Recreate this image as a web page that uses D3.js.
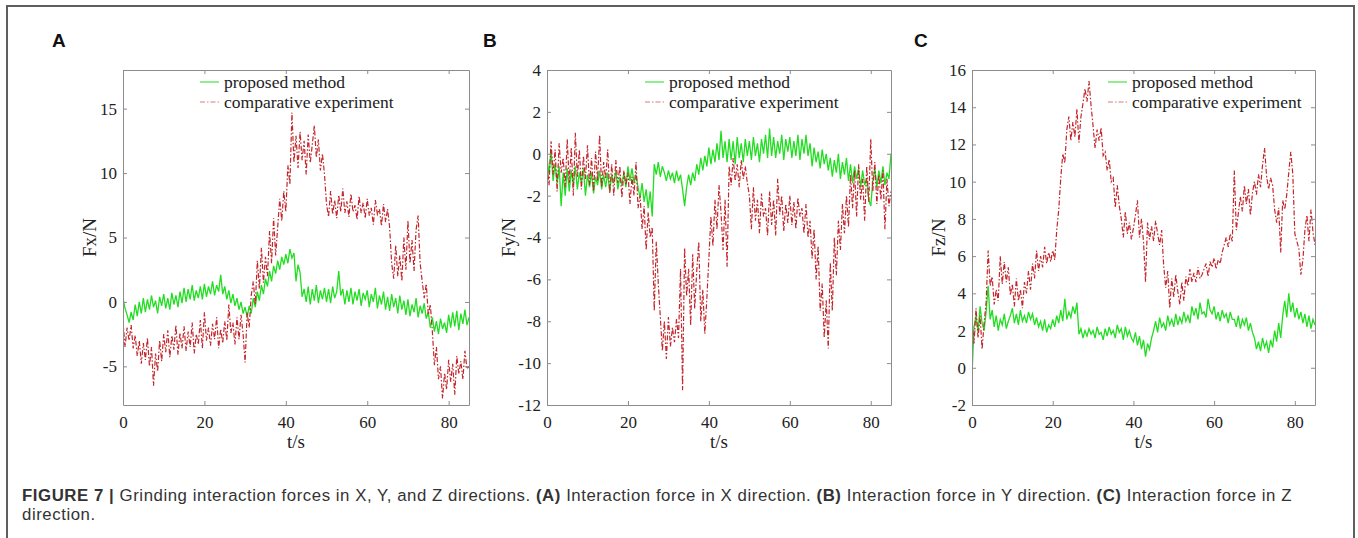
<!DOCTYPE html>
<html>
<head>
<meta charset="utf-8">
<script src="https://cdn.jsdelivr.net/npm/d3@7"></script>
<style>
    body { margin: 0; background: #fff; }
    svg { display: block; }
</style>
</head>
<body>
<div id="figure"></div>
<script>
// Figure size
const fig_width = 1358, fig_height = 538;

// Samples every half second, from 0 to 85 s
const sampleStep = 0.5;
const timeDomain = [0, 85];
const xTicks = [0, 20, 40, 60, 80];
const seriesNames = ["proposed method", "comparative experiment"];

// (A) Fx
const fxYTicks = [-5, 0, 5, 10, 15];
const fxProposed = [
    0.3, -0.5, -1.0, -1.6, -0.8, -1.4, -0.2, -1.1, 0.0, -0.9,
    0.3, -0.8, 0.2, -0.6, 0.5, -0.4, 0.1, -0.9, 0.4, -0.3,
    0.6, -0.5, 0.3, -0.6, 0.7, -0.2, 0.5, -0.4, 0.8, -0.1,
    1.1, 0.0, 1.0, 0.2, 1.3, 0.1, 0.9, 0.3, 1.2, 0.2,
    1.4, 0.4, 1.2, 0.6, 1.6, 0.5, 1.3, 0.8, 2.1, 0.6,
    1.2, 0.2, 0.9, -0.1, 0.6, -0.3, 0.3, -0.6, 0.0, -0.9,
    -0.4, -1.2, -0.3, -0.9, 0.3, -0.4, 0.8, 0.1, 1.3, 0.6,
    1.8, 1.2, 2.4, 1.6, 2.8, 2.2, 3.2, 2.5, 3.5, 2.9,
    3.7, 3.0, 4.1, 3.4, 3.8, 1.6, 2.9, 2.3, 0.4, 1.0,
    0.0, 1.2, -0.2, 1.0, 0.1, 1.3, -0.1, 0.9, 0.2, 1.1,
    0.0, 1.0, -0.1, 1.2, 0.3, 0.8, 2.4, 0.5, 1.0, -0.2,
    0.9, 0.0, 1.1, -0.2, 0.8, 0.1, 1.0, -0.3, 0.7, 0.2,
    0.9, -0.4, 0.6, 0.0, 1.1, -0.5, 0.5, -0.2, 0.8, -0.6,
    0.4, -0.7, 0.6, -0.4, 0.3, -0.9, 0.5, -0.6, 0.1, -1.0,
    0.2, -1.1, -0.2, -0.8, 0.3, -1.2, -0.3, -0.9, -0.1, -1.3,
    -0.8, -2.0, -1.2, -2.3, -1.5, -2.5, -1.3, -2.1, -1.6, -2.4,
    -1.0, -2.0, -0.8, -1.9, -0.7, -2.2, -0.9, -1.7, -0.6, -1.8,
    -1.2
];
const fxComparative = [
    -1.5, -3.5, -2.0, -3.0, -1.8, -3.6, -2.6, -4.2, -3.0, -4.8,
    -3.2, -4.5, -2.8, -5.0, -3.5, -6.5, -4.0, -5.4, -3.0, -4.6,
    -2.5, -3.9, -2.2, -4.3, -2.6, -3.7, -1.8, -4.1, -2.4, -3.6,
    -1.9, -3.8, -2.3, -3.5, -1.6, -4.0, -2.5, -3.3, -1.4, -3.6,
    -0.8, -3.0, -2.0, -3.4, -1.7, -2.9, -1.2, -3.6, -2.1, -3.2,
    -1.5, -3.0, -0.2, -2.4, -1.6, -3.3, -1.2, -2.9, -1.0, -2.5,
    -4.7, -0.8, -2.0, 0.5, 1.6, -0.2, 3.2, 1.0, 4.2, 1.5,
    3.5, 2.0, 5.5, 3.0, 6.5, 3.6, 5.8, 8.0, 6.3, 8.6,
    7.0, 10.6, 9.1, 14.7, 10.8, 12.9, 10.4, 13.2, 11.0, 12.5,
    9.9, 13.0, 10.8, 12.2, 13.7, 11.2, 12.6, 10.2, 11.5, 9.9,
    7.6, 6.6, 8.6, 6.8, 7.9, 6.5, 8.3, 7.0, 8.8, 6.9,
    7.8, 6.6, 8.4, 7.0, 7.5, 6.4, 8.2, 6.9, 7.7, 6.5,
    8.0, 6.7, 7.3, 6.0, 7.9, 6.8, 7.2, 5.9, 7.6, 6.2,
    7.2, 5.8, 3.0, 1.8, 4.4, 2.0, 3.6, 1.6, 5.0, 2.5,
    6.3, 3.0, 4.8, 2.4, 5.6, 6.7, 3.0, 1.6, 0.3, 1.4,
    -1.0, -0.2, -2.3, -4.9, -3.5, -6.0, -5.0, -7.5, -5.5, -6.8,
    -4.5, -6.2, -4.8, -7.2, -4.2, -5.6, -4.6, -6.0, -3.8, -5.2,
    -5.0
];

// (B) Fy
const fyYTicks = [-12, -10, -8, -6, -4, -2, 0, 2, 4];
const fyProposed = [
    -0.2, -1.0, 0.2, -1.3, -0.5, -1.4, -0.6, -2.5, -0.9, -2.0,
    -0.7, -1.8, -0.8, -1.5, -0.6, -1.7, -0.9, -1.4, -0.7, -2.0,
    -1.0, -1.6, -0.9, -1.9, -1.1, -1.5, -0.8, -1.7, -1.0, -1.6,
    -0.9, -1.8, -1.0, -1.4, -0.8, -1.7, -1.1, -1.5, -0.9, -1.6,
    -0.6, -1.3, -0.7, -1.4, -1.0, -1.6, -2.1, -1.4, -2.3, -1.7,
    -2.6, -1.8, -3.0, -0.5, -1.0, -0.4, -1.1, -0.6, -0.9, -1.3,
    -0.8, -1.2, -0.9, -1.4, -0.8, -1.3, -1.0, -1.7, -2.5, -1.6,
    -1.0, -1.5, -0.9, -1.3, -0.5, -1.0, -0.2, -0.8, -0.1, -0.6,
    0.3, -0.5, 0.2, -0.4, 0.5, -0.3, 1.1, -0.2, 0.6, -0.4,
    0.7, -0.3, 0.6, -0.5, 0.8, -0.2, 0.5, -0.4, 0.7, -0.1,
    0.6, -0.3, 0.8, -0.1, 0.5, -0.4, 0.7, 0.0, 0.9, -0.2,
    1.2, -0.1, 0.8, -0.2, 0.6, 0.0, 0.9, -0.3, 0.7, 0.1,
    0.8, -0.2, 0.6, -0.1, 0.9, -0.3, 0.7, 0.0, 0.9, -0.1,
    0.5, -0.6, 0.3, -0.4, 0.1, -0.7, 0.2, -0.5, 0.0, -0.8,
    -0.2, -1.1, -0.3, -0.9, 0.0, -1.2, -0.4, -1.0, -0.2, -1.3,
    -0.5, -1.4, -0.6, -1.2, -0.7, -1.6, -0.8, -1.5, -1.2, -2.2,
    -2.5, -1.3, -0.7, -1.6, -0.8, -1.4, -0.6, -1.5, -0.9, -1.2,
    0.0
];
const fyComparative = [
    -0.5, -1.5, 0.6, -1.0, 0.2, -1.8, 0.5, -0.9, -0.2, -1.6,
    0.7, -1.4, 0.3, -2.0, 1.0, -1.1, 0.2, -1.7, -0.1, -1.2,
    0.4, -1.5, -0.2, -1.8, 0.1, -1.3, 0.9, -1.6, -0.4, -1.2,
    0.2, -1.9, -0.5, -2.0, -0.3, -1.4, -0.6, -2.1, -0.8, -1.5,
    -0.9, -2.4, -1.1, -2.0, -0.4, -2.6, -2.0, -3.6, -2.5, -4.6,
    -2.8, -4.0, -3.5, -7.5, -4.2, -6.2, -7.8, -9.4, -8.0, -9.8,
    -7.8, -9.2, -8.3, -9.0, -7.9, -8.8, -5.5, -11.3, -4.5, -6.8,
    -5.5, -8.2, -4.8, -7.4, -5.6, -4.2, -8.0, -6.5, -8.6, -6.9,
    -5.0, -3.0, -4.4, -2.2, -3.6, -1.5, -2.8, -4.6, -2.2, -5.4,
    -0.6, -1.5, -0.2, -1.3, -0.5, -1.6, -0.3, -1.2, -0.6, -1.4,
    -2.0, -3.6, -1.6, -3.2, -2.2, -3.8, -1.9, -3.0, -2.6, -3.9,
    -1.8, -3.4, -2.2, -3.9, -1.2, -2.9, -2.0, -3.7, -2.4, -3.3,
    -2.0, -3.4, -2.3, -3.6, -2.1, -3.0, -2.6, -3.8, -2.4, -4.0,
    -3.2, -5.0, -3.6, -6.0, -4.4, -7.5, -6.2, -8.8, -7.0, -9.3,
    -5.2, -7.5, -4.0, -5.8, -3.2, -4.6, -2.4, -3.8, -2.0, -3.5,
    -1.0, -2.6, -0.8, -3.0, -0.5, -2.2, -1.2, -3.2, -0.6, -2.3,
    0.7, -1.8, -0.4, -2.4, -1.0, -2.2, -0.8, -3.6, -1.2, -2.5,
    -1.8
];

// (C) Fz
const fzYTicks = [-2, 0, 2, 4, 6, 8, 10, 12, 14, 16];
const fzProposed = [
    -0.4, 2.2, 2.8, 1.9, 3.3, 2.4, 2.0, 3.0, 4.4, 2.6,
    3.1, 2.2, 2.8, 2.0, 2.6, 2.3, 2.9, 2.1, 2.5, 2.8,
    3.2, 2.4, 2.9, 2.3, 3.1, 2.5, 2.8, 2.4, 3.0, 2.6,
    2.9, 2.3, 2.7, 2.2, 2.5, 2.0, 2.6, 1.9, 2.3, 2.1,
    2.6, 2.2, 2.8, 2.4, 3.1, 2.5, 3.7, 2.6, 3.0, 2.7,
    3.3, 2.9, 3.5, 1.8, 2.1, 1.6, 2.0, 1.7, 2.1, 1.8,
    2.0, 1.6, 2.2, 1.8, 1.9, 1.5, 2.1, 1.7, 2.2, 1.8,
    2.0, 1.6, 2.3, 1.9, 2.1, 1.5, 2.2, 1.7, 2.0, 1.6,
    1.4, 1.9, 1.2, 1.7, 1.0, 1.5, 0.6, 1.3, 1.0, 1.6,
    2.0, 2.5, 1.9, 2.7, 2.2, 2.4, 2.0, 2.8, 2.3, 2.6,
    2.2, 2.9, 2.3, 2.7, 2.4, 3.0, 2.5, 2.8, 2.4, 3.3,
    2.8, 3.2, 2.6, 3.5, 2.9, 3.0, 2.7, 3.7, 3.1, 2.9,
    3.3, 2.6, 3.0, 2.5, 3.1, 2.7, 2.9, 2.4, 3.0, 2.6,
    2.6, 2.2, 2.8, 2.1, 2.6, 2.3, 2.7, 2.0, 2.4, 1.9,
    1.6, 1.0, 1.4, 0.9, 1.6, 1.1, 1.4, 0.8, 1.5, 1.1,
    2.0, 1.4, 2.4, 1.6, 2.8, 3.6, 2.7, 4.0, 3.0, 3.5,
    2.7, 3.2, 2.6, 3.0, 2.4, 2.9, 2.2, 2.8, 2.1, 2.6,
    2.3
];
const fzComparative = [
    2.6, 1.3, 3.2, 1.6, 2.8, 1.0, 2.4, 3.5, 6.3, 4.4,
    4.9, 3.4, 4.2, 3.6, 6.0, 4.5, 5.7, 4.6, 5.4, 3.9,
    4.5, 3.3, 4.8, 3.6, 4.2, 3.2, 4.6, 4.0, 5.2, 4.2,
    5.6, 4.8, 6.3, 5.2, 6.0, 5.4, 6.5, 5.6, 6.2, 5.7,
    6.3, 5.8, 7.4, 8.5, 10.2, 11.5, 11.0, 12.8, 13.5, 12.2,
    13.2, 12.4, 13.9, 12.1, 13.5, 14.2, 15.0, 14.3, 15.4, 14.1,
    13.0, 11.8, 12.8, 12.2, 12.9, 11.4, 11.6, 10.6, 11.2, 10.0,
    10.2, 8.6, 9.8, 8.7, 8.0, 7.0, 8.4, 7.2, 7.8, 6.9,
    7.5, 8.2, 9.0, 7.0, 8.0, 6.8, 4.6, 7.8, 6.9, 7.6,
    6.8, 7.9, 7.2, 6.6, 7.4, 5.5, 4.3, 5.2, 3.2, 4.8,
    3.8, 5.0, 4.1, 3.4, 4.6, 3.6, 4.9, 4.4, 5.3, 4.6,
    5.1, 4.6, 5.4, 4.8, 5.0, 5.3, 5.6, 4.9, 5.7, 5.4,
    5.9, 5.3, 5.8, 5.6, 6.2, 6.6, 7.0, 6.5, 7.2, 6.8,
    10.6, 7.4, 8.3, 9.2, 8.4, 9.8, 8.8, 9.6, 8.2, 9.4,
    10.0, 9.3, 10.4, 9.7, 10.9, 11.8, 10.3, 9.6, 10.2, 9.8,
    8.5, 7.8, 8.6, 6.2, 9.0, 8.5, 9.3, 10.5, 11.6, 10.4,
    7.2, 6.8, 6.4, 5.0, 5.8, 7.4, 8.2, 6.8, 8.5, 7.3,
    6.6
];

// Styles
const proposedColor = "#22dd22";
const comparativeColor = "#c3262b";
const axisColor = "#8c8c8c";
const serif = "'Liberation Serif', 'Times New Roman', serif";
const sans = "'Liberation Sans', Arial, sans-serif";

// Vertical extent shared by all three plots
const plotTop = 70, plotBottom = 405;

let svg = d3.select("#figure")
    .append("svg")
    .attr("width", fig_width)
    .attr("height", fig_height);

// Outer frame of the figure (runs off the bottom of the picture)
svg.append("rect")
    .attr("x", 7)
    .attr("y", 6)
    .attr("width", 1347)
    .attr("height", 560)
    .style("fill", "none")
    .style("stroke", "#5e5e5e")
    .style("stroke-width", 2);

const panels = [
    {letter: "A", letterX: 52, label: "Fx/N", labelX: 96, left: 123, right: 469,
        yDomain: [-8, 18], yTicks: fxYTicks, proposed: fxProposed, comparative: fxComparative, legendX: 200},
    {letter: "B", letterX: 483, label: "Fy/N", labelX: 515, left: 547, right: 891,
        yDomain: [-12, 4], yTicks: fyYTicks, proposed: fyProposed, comparative: fyComparative, legendX: 645},
    {letter: "C", letterX: 914, label: "Fz/N", labelX: 945, left: 972, right: 1315,
        yDomain: [-2, 16], yTicks: fzYTicks, proposed: fzProposed, comparative: fzComparative, legendX: 1108}
];

panels.forEach(drawPanel);

function drawPanel(p, i) {
    let x = d3.scaleLinear().domain(timeDomain).range([p.left, p.right]);
    let y = d3.scaleLinear().domain(p.yDomain).range([plotBottom, plotTop]);

    let g = svg.append("g");

    // Clip the traces to the plot box
    g.append("clipPath")
        .attr("id", `clip${i}`)
        .append("rect")
        .attr("x", p.left)
        .attr("y", plotTop)
        .attr("width", p.right - p.left)
        .attr("height", plotBottom - plotTop);

    let line = d3.line()
        .x((d, j) => x(j * sampleStep))
        .y(d => y(d));

    g.append("path")
        .datum(p.proposed)
        .attr("clip-path", `url(#clip${i})`)
        .attr("d", line)
        .style("fill", "none")
        .style("stroke", proposedColor)
        .style("stroke-width", 1.3);

    g.append("path")
        .datum(p.comparative)
        .attr("clip-path", `url(#clip${i})`)
        .attr("d", line)
        .style("fill", "none")
        .style("stroke", comparativeColor)
        .style("stroke-width", 1.2)
        .style("stroke-dasharray", "5,2,1.5,2");

    // plain hyphen for negative numbers, like the original
    let plain = d => String(d);

    // Box axes, ticks pointing inwards on all four sides
    let bottom = g.append("g")
        .attr("transform", `translate(0, ${plotBottom})`)
        .call(d3.axisBottom(x).tickValues(xTicks).tickSizeInner(-4).tickSizeOuter(0).tickPadding(11).tickFormat(plain));
    let top = g.append("g")
        .attr("transform", `translate(0, ${plotTop})`)
        .call(d3.axisTop(x).tickValues(xTicks).tickSizeInner(-4).tickSizeOuter(0).tickFormat(""));
    let left = g.append("g")
        .attr("transform", `translate(${p.left}, 0)`)
        .call(d3.axisLeft(y).tickValues(p.yTicks).tickSizeInner(-4).tickSizeOuter(0).tickPadding(6).tickFormat(plain));
    let right = g.append("g")
        .attr("transform", `translate(${p.right}, 0)`)
        .call(d3.axisRight(y).tickValues(p.yTicks).tickSizeInner(-4).tickSizeOuter(0).tickFormat(""));

    [bottom, top, left, right].forEach(function (a) {
        a.select(".domain").style("stroke", axisColor);
        a.selectAll(".tick line").style("stroke", axisColor);
        a.selectAll("text")
            .style("font-family", serif)
            .style("font-size", "17px")
            .style("fill", "#222");
    });

    // Axis titles
    g.append("text")
        .attr("x", (p.left + p.right) / 2)
        .attr("y", 448)
        .style("text-anchor", "middle")
        .style("font-family", serif)
        .style("font-size", "19px")
        .style("fill", "#222")
        .text("t/s");

    g.append("text")
        .attr("transform", `translate(${p.labelX}, ${(plotTop + plotBottom) / 2}) rotate(-90)`)
        .style("text-anchor", "middle")
        .style("font-family", serif)
        .style("font-size", "19px")
        .style("fill", "#222")
        .text(p.label);

    // Panel letter
    g.append("text")
        .attr("x", p.letterX)
        .attr("y", 47)
        .style("font-family", sans)
        .style("font-weight", "bold")
        .style("font-size", "19px")
        .style("fill", "#111")
        .text(p.letter);

    // Legend (no box)
    let legendRows = [
        {name: seriesNames[0], color: proposedColor, dash: null, y: 82},
        {name: seriesNames[1], color: comparativeColor, dash: "5,2,1.5,2", y: 102}
    ];
    legendRows.forEach(function (row) {
        g.append("line")
            .attr("x1", p.legendX)
            .attr("x2", p.legendX + 19)
            .attr("y1", row.y)
            .attr("y2", row.y)
            .style("stroke", row.color)
            .style("stroke-width", 1)
            .style("stroke-dasharray", row.dash)
            .style("opacity", row.dash ? 0.6 : 1);
        g.append("text")
            .attr("x", p.legendX + 24)
            .attr("y", row.y)
            .attr("dy", "0.32em")
            .style("font-family", serif)
            .style("font-size", "17.5px")
            .style("fill", "#222")
            .text(row.name);
    });
}

// Caption
const captionStyle = sel => sel
    .style("font-family", sans)
    .style("font-size", "16.8px")
    .style("letter-spacing", "0.56px")
    .style("fill", "#333");

let caption = svg.append("text")
    .attr("x", 22)
    .attr("y", 501)
    .call(captionStyle);
const captionParts = [
    ["FIGURE 7 |", true], [" Grinding interaction forces in X, Y, and Z directions. ", false],
    ["(A)", true], [" Interaction force in X direction. ", false],
    ["(B)", true], [" Interaction force in Y direction. ", false],
    ["(C)", true], [" Interaction force in Z", false]
];
captionParts.forEach(function (part) {
    caption.append("tspan")
        .style("font-weight", part[1] ? "bold" : "normal")
        .text(part[0]);
});
svg.append("text")
    .attr("x", 22)
    .attr("y", 520)
    .call(captionStyle)
    .text("direction.");
</script>
</body>
</html>
